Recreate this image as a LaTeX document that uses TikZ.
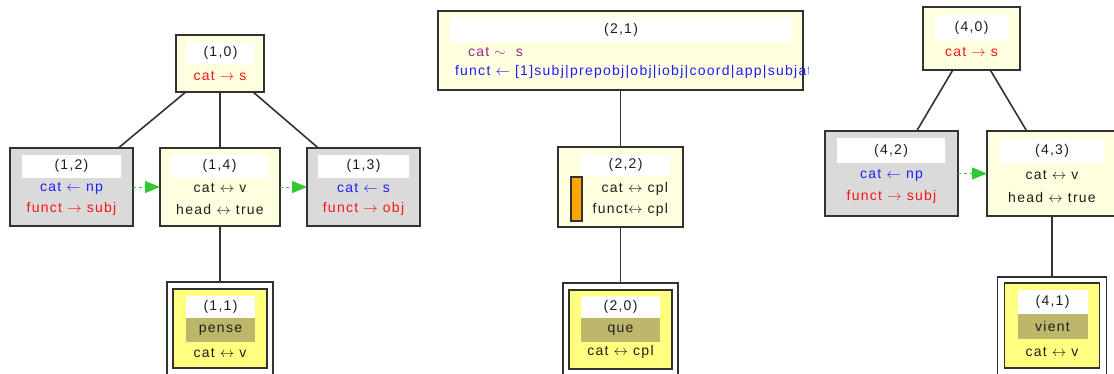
\documentclass[tikz,border=0pt]{standalone}
\usepackage{fontspec}
\setmainfont{Liberation Sans}[LetterSpace=9]
\usepackage{tikz}
\usetikzlibrary{arrows.meta}

\definecolor{cream}{RGB}{255,255,224}
\definecolor{boxgrey}{RGB}{218,218,218}
\definecolor{lexyellow}{RGB}{255,255,128}
\definecolor{lexolive}{RGB}{189,183,107}
\definecolor{edge}{RGB}{50,50,50}
\definecolor{ink}{RGB}{30,30,30}
\definecolor{featred}{RGB}{250,20,20}
\definecolor{featblue}{RGB}{30,30,250}
\definecolor{featpurple}{RGB}{150,40,140}
\definecolor{order}{RGB}{50,200,50}
\definecolor{markorange}{RGB}{255,165,0}

\newcommand{\featra}{$\rightarrow$}
\newcommand{\featla}{$\leftarrow$}
\newcommand{\featlra}{$\leftrightarrow$}

\begin{document}
\begin{tikzpicture}[x=1pt, y=-1pt,
    every node/.style={font=\fontsize{14}{16}\selectfont, inner sep=0pt, outer sep=0pt, text=ink},
    featbox/.style={draw=edge, line width=1.8pt, fill=cream},
    greybox/.style={draw=edge, line width=1.8pt, fill=boxgrey},
    outerbox/.style={draw=edge, line width=1.2pt, fill=white},
    anchorbox/.style={draw=edge, line width=1.8pt, fill=lexyellow},
    idband/.style={fill=white, minimum height=23pt},
    lexband/.style={fill=lexolive, minimum height=24pt},
    link/.style={draw=edge, line width=1.6pt},
    order/.style={draw=order, line width=1pt, dash pattern=on 3pt off 3pt,
                  -{Triangle[length=15pt, width=12pt]}}]
      \useasboundingbox (0,0) rectangle (1114,373);

      % Gruppe 1
      \node[featbox, minimum width=88pt, minimum height=57pt] (n10) at (220,63.5) {};
      \node[idband, minimum width=67pt, minimum height=22pt] (n10id) at (220.5,53) {(1,0)};
      \node[text=featred] (n10a) at (220,76) {cat \featra\ s};

      \node[greybox, minimum width=123pt, minimum height=78pt] (n12) at (71.5,187) {};
      \node[idband, minimum width=99pt] (n12id) at (71.5,166) {(1,2)};
      \node[text=featblue] (n12a) at (71.5,188) {cat \featla\ np};
      \node[text=featred] (n12b) at (71.5,209) {funct \featra\ subj};

      \node[featbox, minimum width=120pt, minimum height=78pt] (n14) at (220,187) {};
      \node[idband, minimum width=97pt] (n14id) at (219.5,166) {(1,4)};
      \node (n14a) at (220,188) {cat \featlra\ v};
      \node (n14b) at (220,209) {head \featlra\ true};

      \node[greybox, minimum width=113pt, minimum height=78pt] (n13) at (363.5,187) {};
      \node[idband, minimum width=91pt] (n13id) at (363.5,166) {(1,3)};
      \node[text=featblue] (n13a) at (363.5,188) {cat \featla\ s};
      \node[text=featred] (n13b) at (363.5,209) {funct \featra\ obj};

      \node[outerbox, minimum width=106pt, minimum height=98pt] (n11out) at (220,331) {};
      \node[anchorbox, minimum width=94pt, minimum height=79pt] (n11) at (220,328.5) {};
      \node[idband, minimum width=69pt, minimum height=22pt] (n11id) at (220.5,307) {(1,1)};
      \node[lexband, minimum width=69pt] (n11lex) at (220.5,330) {pense};
      \node (n11a) at (220,353) {cat \featlra\ v};

      \draw[link] (n10) -- (n12);
      \draw[link] (n10) -- (n14);
      \draw[link] (n10) -- (n13);
      \draw[link] (n14) -- (n11out);
      \draw[order] (n12) -- (n14);
      \draw[order] (n14) -- (n13);

      % Gruppe 2
      \node[featbox, minimum width=365pt, minimum height=79pt] (n21) at (620.5,50.5) {};
      \node[idband, minimum width=342pt, minimum height=25pt] (n21id) at (621,29.5) {(2,1)};
      \node[text=featpurple, anchor=west] (n21a) at (468,52) {cat $\sim$\ \ s};
      \begin{scope}
        \clip (438,11) rectangle (808,90);
        \node[text=featblue, anchor=west] (n21b) at (455,72)
          {funct \featla\ [1]subj|prepobj|obj|iobj|coord|app|subjat};
      \end{scope}

      \node[featbox, minimum width=125pt, minimum height=80pt] (n22) at (620.5,187) {};
      \node[idband, minimum width=89pt, minimum height=22pt] (n22id) at (625.5,165) {(2,2)};
      \node[draw=edge, line width=1.2pt, fill=markorange, minimum width=11pt,
            minimum height=44pt] (n22mark) at (576.5,199) {};
      \node[anchor=east] (n22a) at (668,189) {cat \featlra\ cpl};
      \node[anchor=east] (n22b) at (668,210) {funct\featlra\ cpl};

      \node[outerbox, minimum width=115pt, minimum height=97pt] (n20out) at (620.5,331.5) {};
      \node[anchorbox, minimum width=103pt, minimum height=79pt] (n20) at (620.5,329.5) {};
      \node[idband, minimum width=79pt, minimum height=22pt] (n20id) at (620.5,307) {(2,0)};
      \node[lexband, minimum width=79pt] (n20lex) at (620.5,330) {que};
      \node (n20a) at (620.5,352) {cat \featlra\ cpl};

      \draw[link] (n21) -- (n22);
      \draw[link] (n22) -- (n20out);

      % Gruppe 3
      \node[featbox, minimum width=97pt, minimum height=63pt] (n40) at (971.5,38.5) {};
      \node[idband, minimum width=73pt, minimum height=26pt] (n40id) at (971.5,28) {(4,0)};
      \node[text=featred] (n40a) at (971.5,52) {cat \featra\ s};

      \node[greybox, minimum width=133pt, minimum height=85pt] (n42) at (891.5,173.5) {};
      \node[idband, minimum width=108pt, minimum height=25pt] (n42id) at (891,150.5) {(4,2)};
      \node[text=featblue] (n42a) at (891.5,175) {cat \featla\ np};
      \node[text=featred] (n42b) at (891.5,197) {funct \featra\ subj};

      \node[featbox, minimum width=130pt, minimum height=85pt] (n43) at (1052,173.5) {};
      \node[idband, minimum width=104pt, minimum height=25pt] (n43id) at (1052,150.5) {(4,3)};
      \node (n43a) at (1052,175) {cat \featlra\ v};
      \node (n43b) at (1052,197) {head \featlra\ true};

      \node[outerbox, minimum width=109pt, minimum height=103pt] (n41out) at (1052,328.5) {};
      \node[anchorbox, minimum width=95pt, minimum height=85pt] (n41) at (1052,325.5) {};
      \node[idband, minimum width=70pt, minimum height=24pt] (n41id) at (1052.5,302) {(4,1)};
      \node[lexband, minimum width=70pt, minimum height=25pt] (n41lex) at (1052.5,326.5) {vient};
      \node (n41a) at (1052,352) {cat \featlra\ v};

      \draw[link] (n40) -- (n42);
      \draw[link] (n40) -- (n43);
      \draw[link] (n43) -- (n41out);
      \draw[order] (n42) -- (n43);
\end{tikzpicture}
\end{document}
